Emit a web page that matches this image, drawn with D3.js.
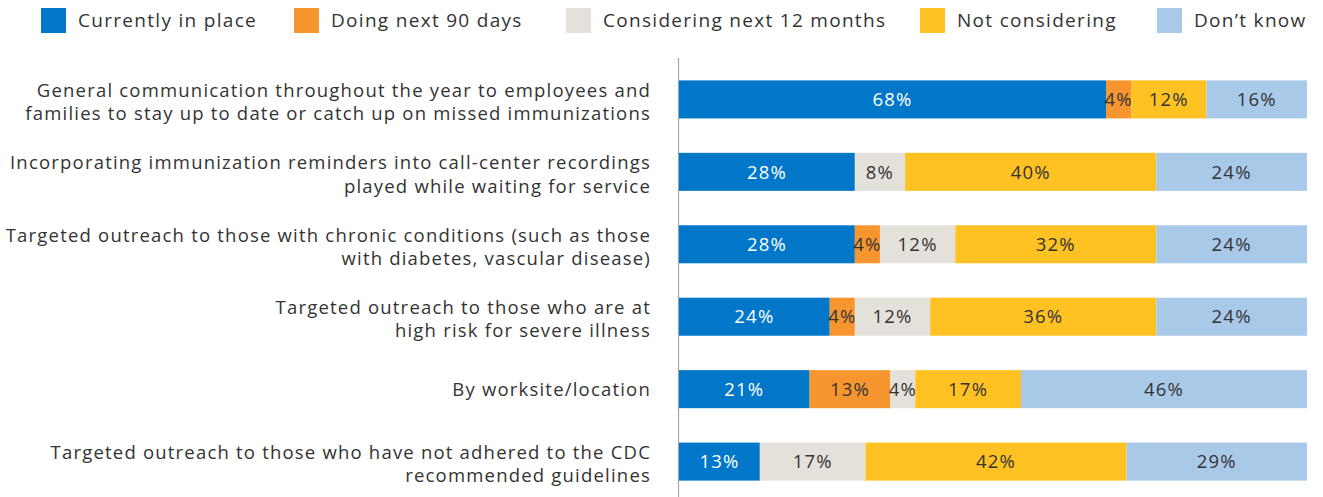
<!DOCTYPE html>
<html><head><meta charset="utf-8">
<script src="https://cdn.jsdelivr.net/npm/d3@7"></script>
<style>body{margin:0;background:#fff}svg{display:block}text{font-family:"Open Sans",sans-serif}</style>
</head><body><svg id="c" width="1323" height="497"></svg>
<script>
const categories = [
  ["General communication throughout the year to employees and","families to stay up to date or catch up on missed immunizations"],
  ["Incorporating immunization reminders into call-center recordings","played while waiting for service"],
  ["Targeted outreach to those with chronic conditions (such as those","with diabetes, vascular disease)"],
  ["Targeted outreach to those who are at","high risk for severe illness"],
  ["By worksite/location"],
  ["Targeted outreach to those who have not adhered to the CDC","recommended guidelines"]
];
const seriesNames = ["Currently in place","Doing next 90 days","Considering next 12 months","Not considering","Don\u2019t know"];
const currentlyInPlace = [68,28,28,24,21,13];
const doingNext90 = [4,0,4,4,13,0];
const considering12 = [0,8,12,12,4,17];
const notConsidering = [12,40,32,36,17,42];
const dontKnow = [16,24,24,24,46,29];
const colors = ["#0077C8","#F7962F","#E3E1DA","#FFC222","#A9C9E8"];
const textColors = ["#fff","#333","#333","#333","#333"];

const seriesVals = [currentlyInPlace,doingNext90,considering12,notConsidering,dontKnow];
const rows = categories.map((c,i)=>{const o={i};seriesNames.forEach((s,j)=>o[s]=seriesVals[j][i]);return o;});
const stack = d3.stack().keys(seriesNames).offset(d3.stackOffsetExpand)(rows);

const svg = d3.select("#c");
const x = d3.scaleLinear().domain([0,1]).range([679,1307]);
const y = d3.scaleBand().domain(d3.range(categories.length)).range([63,498]).paddingInner(0.475).paddingOuter(0.24);

svg.append("line").attr("x1",678.5).attr("x2",678.5).attr("y1",58).attr("y2",497).attr("stroke","#a6a6a6").attr("stroke-width",1.2);

stack.forEach((s,j)=>{
  const g = svg.append("g");
  s.forEach((d,i)=>{
    const v = seriesVals[j][i];
    if(!v) return;
    g.append("rect").attr("x",x(d[0])).attr("width",x(d[1])-x(d[0])).attr("y",y(i)).attr("height",y.bandwidth()).attr("fill",colors[j]);
    g.append("text").attr("x",(x(d[0])+x(d[1]))/2).attr("y",y(i)+y.bandwidth()/2).attr("dy","0.36em")
      .attr("text-anchor","middle").attr("font-size",18.5).attr("letter-spacing",1.2).attr("fill",textColors[j]).text(v+"%");
  });
});

categories.forEach((lines,i)=>{
  const cy = y(i)+y.bandwidth()/2 + (lines.length>1?2.5:0);
  const t = svg.append("text").attr("text-anchor","end").attr("font-size",18.5).attr("letter-spacing",1.2).attr("fill","#333");
  const lh = 23.5;
  lines.forEach((l,k)=>{
    t.append("tspan").attr("x",651).attr("y",cy + (k-(lines.length-1)/2)*lh).attr("dy","0.35em").text(l);
  });
});

const legX = [41,294,566,920,1157];
seriesNames.forEach((s,j)=>{
  svg.append("rect").attr("x",legX[j]).attr("y",8).attr("width",25).attr("height",25).attr("fill",colors[j]);
  svg.append("text").attr("x",legX[j]+37).attr("y",20.5).attr("dy","0.36em").attr("font-size",19).attr("letter-spacing",1.3).attr("fill","#333").text(s);
});
</script></body></html>
